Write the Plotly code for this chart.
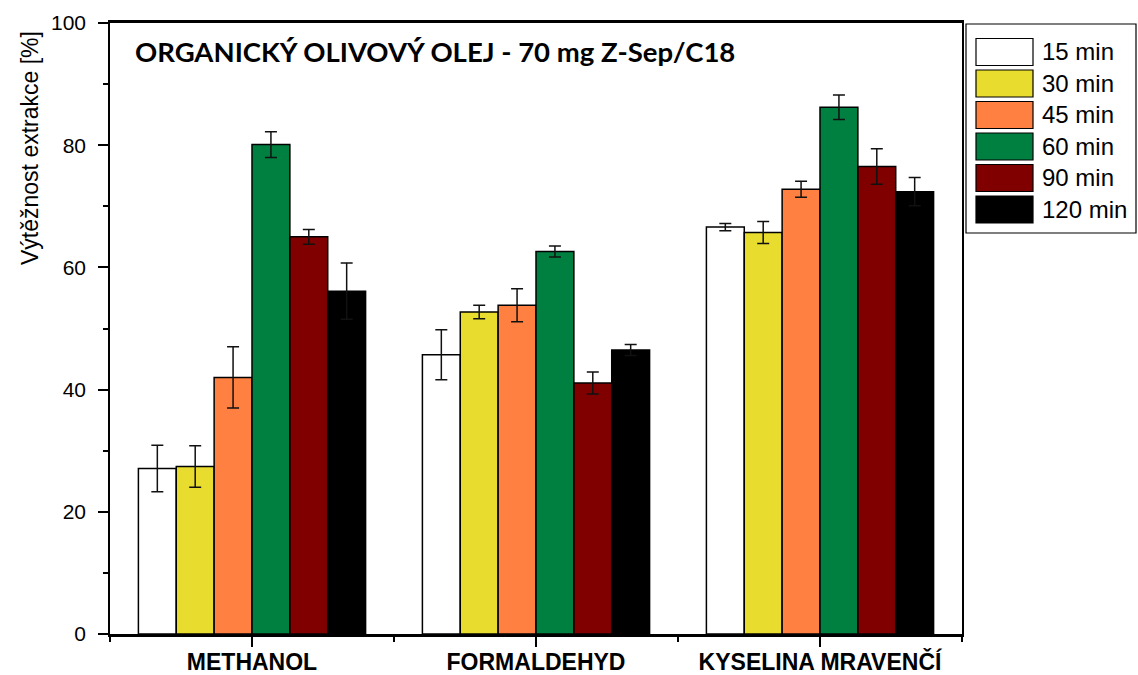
import plotly.graph_objects as go

# Solvents (x categories) and extraction times (series)
categories = ["METHANOL", "FORMALDEHYD", "KYSELINA MRAVENČÍ"]
series_names = ["15 min", "30 min", "45 min", "60 min", "90 min", "120 min"]
series_colors = ["#FFFFFF", "#E8DD2E", "#FF8040", "#008040", "#800000", "#000000"]

# Extraction yield [%] per time, one value per solvent
yield_15 = [27.1, 45.7, 66.6]
yield_30 = [27.4, 52.7, 65.7]
yield_45 = [42.0, 53.8, 72.8]
yield_60 = [80.1, 62.6, 86.2]
yield_90 = [65.0, 41.1, 76.5]
yield_120 = [56.1, 46.5, 72.4]

# Standard deviations
sd_15 = [3.8, 4.1, 0.6]
sd_30 = [3.4, 1.1, 1.8]
sd_45 = [5.0, 2.7, 1.3]
sd_60 = [2.1, 0.9, 2.0]
sd_90 = [1.2, 1.8, 2.9]
sd_120 = [4.6, 0.9, 2.3]

y_ticks = [0, 20, 40, 60, 80, 100]

values = [yield_15, yield_30, yield_45, yield_60, yield_90, yield_120]
errors = [sd_15, sd_30, sd_45, sd_60, sd_90, sd_120]

x_pos = list(range(len(categories)))

fig = go.Figure()
for name, color, vals, errs in zip(series_names, series_colors, values, errors):
    fig.add_trace(go.Bar(
        x=x_pos, y=vals, name=name,
        marker=dict(color=color, line=dict(color="#000000", width=1.5)),
        error_y=dict(type="data", array=errs, visible=True,
                     color="#111111", thickness=1.5, width=6),
        showlegend=False,
    ))

W, H = 1138, 675
L, R, T, B = 110, 962, 23, 634


def px_x(px):
    return (px - L) / (R - L)


def px_y(py):
    return (B - py) / (B - T)


shapes = []
annotations = []

# Legend frame and swatches
shapes.append(dict(type="rect", xref="paper", yref="paper",
                   x0=px_x(966), x1=px_x(1136), y0=px_y(233), y1=px_y(24),
                   line=dict(color="#000000", width=1.2), fillcolor="#FFFFFF"))
row0, row_step = 52, 31.5
for i, (name, color) in enumerate(zip(series_names, series_colors)):
    cy = row0 + i * row_step
    shapes.append(dict(type="rect", xref="paper", yref="paper",
                       x0=px_x(976), x1=px_x(1033), y0=px_y(cy + 13.5), y1=px_y(cy - 13.5),
                       line=dict(color="#000000", width=1.2), fillcolor=color))
    annotations.append(dict(xref="paper", yref="paper", x=px_x(1040), y=px_y(cy),
                            text=name, showarrow=False, xanchor="left", yanchor="middle",
                            font=dict(family="Liberation Sans, Arial", size=24, color="#000000")))

# Chart heading inside the plot
annotations.append(dict(xref="paper", yref="paper", x=px_x(133), y=px_y(52),
                        text="<b>ORGANICKÝ OLIVOVÝ OLEJ - 70 mg Z-Sep/C18</b>",
                        showarrow=False, xanchor="left", yanchor="middle",
                        font=dict(family="Lato, Open Sans, sans-serif", size=27.5, color="#000000")))

# Y axis title
annotations.append(dict(xref="paper", yref="paper", x=px_x(30), y=px_y(148),
                        text="Výtěžnost extrakce [%]", textangle=-90,
                        showarrow=False, xanchor="center", yanchor="middle",
                        font=dict(family="Liberation Sans, Arial", size=23, color="#000000")))

fig.update_layout(
    width=W, height=H,
    margin=dict(l=L, r=W - R, t=T, b=H - B, pad=0),
    paper_bgcolor="#FFFFFF", plot_bgcolor="#FFFFFF",
    barmode="group", bargap=0.2, bargroupgap=0.0,
    shapes=shapes, annotations=annotations,
    showlegend=False,
)

fig.update_xaxes(
    range=[-0.5, len(categories) - 0.5], automargin=False,
    tickmode="array", tickvals=x_pos, ticktext=[f"<b>{c}</b>" for c in categories],
    ticks="outside", ticklen=10, tickwidth=1.5, tickcolor="#000000",
    minor=dict(tickmode="linear", tick0=-0.5, dtick=1, ticks="outside",
               ticklen=5, tickwidth=1.5, tickcolor="#000000"),
    showline=True, linecolor="#000000", linewidth=2.5, mirror=True,
    showgrid=False, zeroline=False, ticklabelstandoff=-4,
    tickfont=dict(family="Liberation Sans, Arial", size=23, color="#000000"),
)

fig.update_yaxes(
    range=[0, 100], automargin=False, tickmode="array", tickvals=y_ticks,
    ticks="outside", ticklen=10, tickwidth=1.5, tickcolor="#000000",
    minor=dict(tickmode="linear", tick0=0, dtick=10, ticks="outside",
               ticklen=5, tickwidth=1.5, tickcolor="#000000"),
    showline=True, linecolor="#000000", linewidth=1.5, mirror=True,
    showgrid=False, zeroline=False, ticklabelstandoff=8,
    tickfont=dict(family="Liberation Sans, Arial", size=21, color="#000000"),
)

fig.write_html("out.html")
